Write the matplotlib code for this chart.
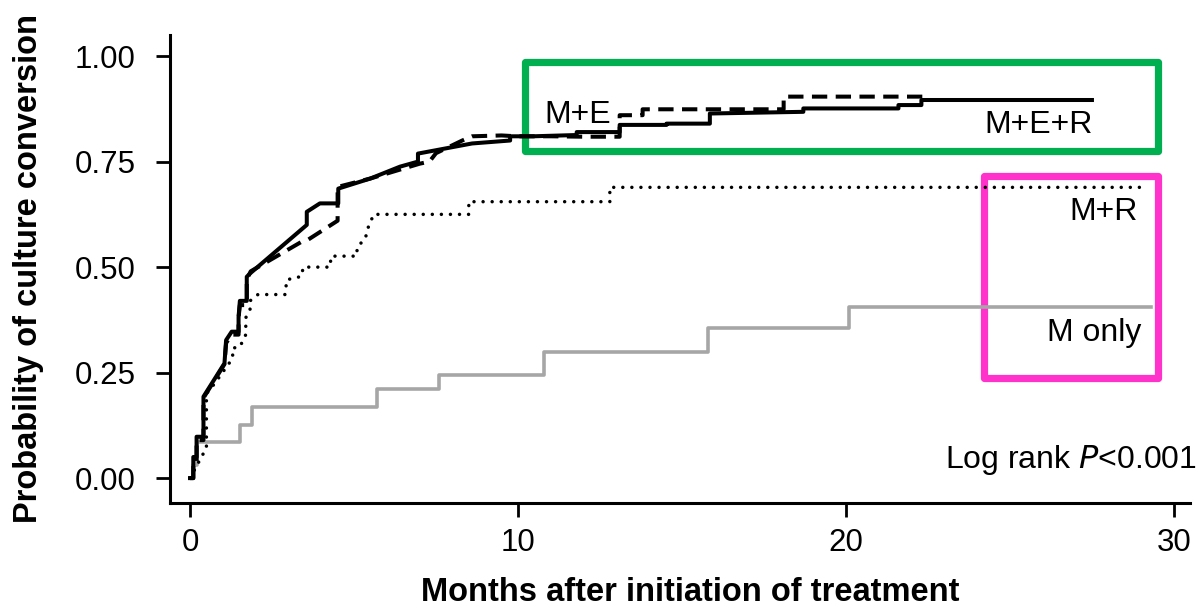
import matplotlib
matplotlib.use("Agg")
import matplotlib.pyplot as plt
from matplotlib.patches import Rectangle

plt.rcParams['font.family'] = ['Liberation Sans', 'DejaVu Sans']

# curve vertices (months, probability)
mer_t = [0, 0.1, 0.1, 0.2, 0.2, 0.41, 0.41, 1.05, 1.1, 1.27, 1.48, 1.48, 1.52, 1.73, 1.73,
         1.83, 3.56, 3.56, 3.96, 4.52, 4.52, 5.5, 6.4, 6.95, 6.95, 8.6, 9.76, 9.76, 10.46,
         11.79, 11.79, 13.1, 13.1, 14.53, 14.53, 15.85, 15.85, 18.7, 18.7, 21.6, 21.6,
         22.3, 22.3, 27.5]
mer_p = [0, 0, 0.05, 0.05, 0.098, 0.098, 0.193, 0.272, 0.327, 0.347, 0.347, 0.382, 0.42,
         0.42, 0.477, 0.485, 0.60, 0.631, 0.651, 0.651, 0.686, 0.71, 0.738, 0.75, 0.769,
         0.793, 0.80, 0.81, 0.81, 0.813, 0.82, 0.82, 0.837, 0.837, 0.84, 0.84, 0.864,
         0.868, 0.876, 0.876, 0.884, 0.884, 0.896, 0.896]

me_t = [0, 0.1, 0.1, 0.2, 0.2, 0.41, 0.41, 1.05, 1.1, 1.27, 1.48, 1.48, 1.52, 1.73, 1.73,
        1.85, 3.4, 3.6, 4.5, 4.5, 5.5, 7.0, 7.3, 7.5, 8.3, 8.6, 9.5, 9.96, 11.0, 12.0,
        13.1, 13.1, 13.8, 13.8, 18.1, 18.1, 22.4]
me_p = [0, 0, 0.04, 0.04, 0.09, 0.09, 0.19, 0.27, 0.32, 0.34, 0.34, 0.38, 0.41, 0.41,
        0.47, 0.49, 0.56, 0.565, 0.61, 0.69, 0.71, 0.745, 0.75, 0.77, 0.80, 0.81, 0.812,
        0.81, 0.81, 0.809, 0.809, 0.86, 0.86, 0.874, 0.874, 0.904, 0.904]

mr_t = [0, 0.46, 0.5, 0.5, 0.76, 1.3, 1.3, 1.52, 1.7, 1.7, 1.83, 1.83, 2.07, 2.9, 2.95,
        3.4, 3.45, 4.27, 4.3, 5.08, 5.1, 5.35, 5.4, 5.6, 8.5, 8.5, 12.8, 12.8, 29.2]
mr_p = [0, 0.066, 0.07, 0.2, 0.225, 0.284, 0.308, 0.311, 0.34, 0.38, 0.40, 0.42, 0.435,
        0.435, 0.47, 0.478, 0.50, 0.50, 0.526, 0.526, 0.548, 0.568, 0.588, 0.625, 0.625,
        0.655, 0.655, 0.689, 0.689]

m_t = [0, 0.1, 0.2, 1.52, 1.88, 5.7, 7.6, 10.8, 15.8, 20.1, 29.3]
m_p = [0, 0.03, 0.085, 0.126, 0.169, 0.21, 0.245, 0.30, 0.355, 0.405, 0.405]

xticks = [0, 10, 20, 30]
yticks = [0, 0.25, 0.5, 0.75, 1.0]

fig = plt.figure(figsize=(11.99, 6.10), dpi=100)
ax = fig.add_axes([0.1418, 0.1754, 0.8507, 0.7672])

ax.plot(m_t, m_p, drawstyle='steps-post', color='#a6a6a6', lw=2.6)
ax.plot(mr_t, mr_p, color='black', lw=2.5, linestyle=(0, (0.01, 2.6)), dash_capstyle='round')
ax.plot(me_t, me_p, color='black', lw=2.9, linestyle=(0, (3.8, 2.1)))
ax.plot(mer_t, mer_p, color='black', lw=2.9)

# highlight boxes
ax.add_patch(Rectangle((10.2, 0.776), 29.5 - 10.2, 0.985 - 0.776, fill=False,
                       edgecolor='#00b050', lw=5.2, joinstyle='round', clip_on=False))
ax.add_patch(Rectangle((24.2, 0.237), 29.5 - 24.2, 0.717 - 0.237, fill=False,
                       edgecolor='#ff33cc', lw=5.2, joinstyle='round', clip_on=False))

fs = 23
ax.text(11.83, 0.86, 'M+E', fontsize=fs, ha='center', va='center')
ax.text(27.53, 0.836, 'M+E+R', fontsize=fs, ha='right', va='center')
ax.text(28.9, 0.631, 'M+R', fontsize=fs, ha='right', va='center')
ax.text(29.0, 0.344, 'M only', fontsize=fs, ha='right', va='center')
ax.text(30.7, 0.043, 'Log rank $\\it{P}$<0.001', fontsize=fs, ha='right', va='center',
        clip_on=False)

ax.set_xlim(-0.61, 30.49)
ax.set_ylim(-0.059, 1.05)
ax.set_xticks(xticks)
ax.set_yticks(yticks)
ax.set_yticklabels([f'{v:.2f}' for v in yticks])
ax.tick_params(labelsize=22.5, width=2, length=10, direction='out')
ax.tick_params(axis='x', pad=8)
ax.tick_params(axis='y', pad=15)

for s in ['top', 'right']:
    ax.spines[s].set_visible(False)
for s in ['left', 'bottom']:
    ax.spines[s].set_linewidth(2.2)

ax.set_xlabel('Months after initiation of treatment', fontsize=23.5, fontweight='bold')
ax.set_ylabel('Probability of culture conversion', fontsize=23.5, fontweight='bold')
ax.xaxis.set_label_coords(0.51, -0.192)
ax.xaxis.label.set_va('center')
ax.yaxis.set_label_coords(-0.139, 0.502)
ax.yaxis.label.set_va('center')

fig.savefig('out.png', dpi=100)
